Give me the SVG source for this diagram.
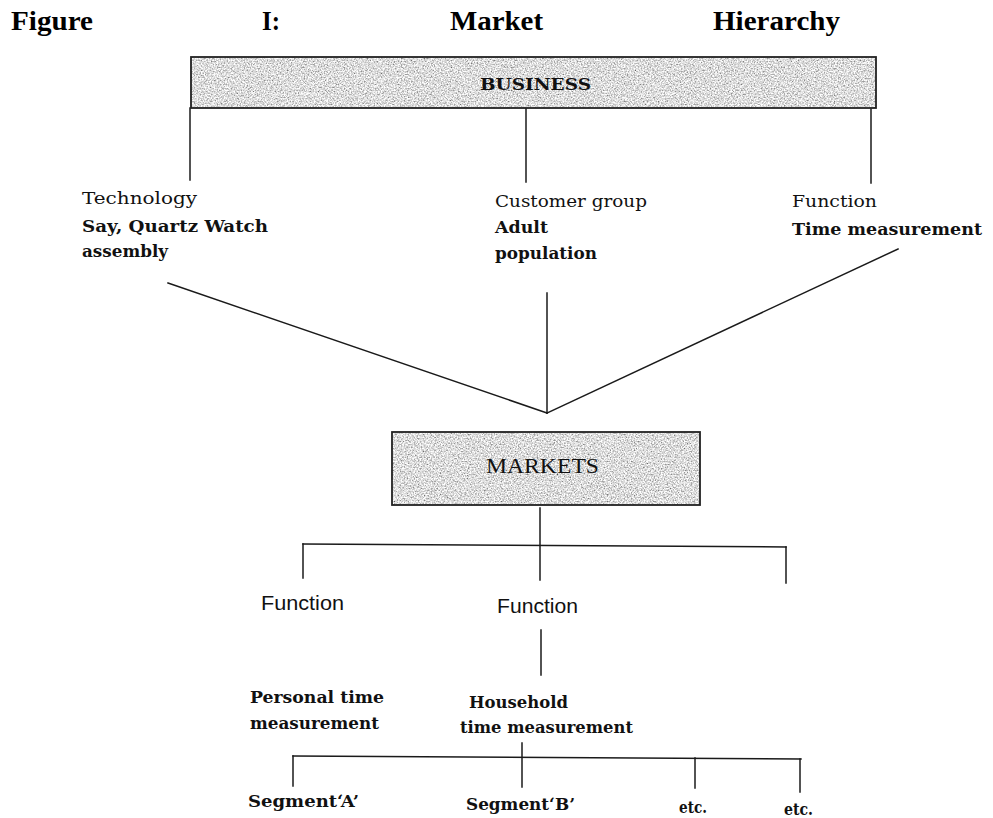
<svg xmlns="http://www.w3.org/2000/svg" width="993" height="818" viewBox="0 0 993 818">
<defs>
<filter id="grain" x="0" y="0" width="1" height="1" filterUnits="objectBoundingBox">
<feTurbulence type="fractalNoise" baseFrequency="0.7" numOctaves="3" seed="7" result="n"/>
<feColorMatrix in="n" type="matrix" values="1.5 0 0 0 -0.03  1.5 0 0 0 -0.03  1.5 0 0 0 -0.03  0 0 0 0 1" result="g"/>
<feComposite in="g" in2="SourceGraphic" operator="in"/>
</filter>
<style>
.ln{stroke:#1a1a1a;stroke-width:1.5;fill:none;stroke-linecap:square}
.fill{fill:#000;filter:url(#grain)}
.box{fill:none;stroke:#222;stroke-width:1.8}
.t{font-family:"DejaVu Serif","Liberation Serif",serif;font-size:17px;fill:#111}
.b{font-weight:bold}
.sans{font-family:"Liberation Sans",Arial,sans-serif;font-size:20px;fill:#111}
.tnr{font-family:"Liberation Serif","Times New Roman",serif;font-size:20px;fill:#111}
.title{font-family:"Liberation Serif","Times New Roman",serif;font-weight:bold;font-size:28px;fill:#000}
</style>
</defs>
<rect width="993" height="818" fill="#fff"/>

<g id="title">
<text class="title" x="11" y="30" textLength="82" lengthAdjust="spacingAndGlyphs">Figure</text>
<text class="title" x="262" y="30" textLength="18" lengthAdjust="spacingAndGlyphs">I:</text>
<text class="title" x="450" y="30" textLength="93" lengthAdjust="spacingAndGlyphs">Market</text>
<text class="title" x="713" y="30" textLength="127" lengthAdjust="spacingAndGlyphs">Hierarchy</text>
</g>

<g id="connectors">
<line class="ln" x1="190" y1="108" x2="190" y2="180"/>
<line class="ln" x1="526" y1="108" x2="526" y2="182"/>
<line class="ln" x1="871" y1="109" x2="871" y2="183"/>
<line class="ln" x1="168" y1="283" x2="547" y2="413"/>
<line class="ln" x1="547" y1="293" x2="547" y2="413"/>
<line class="ln" x1="898" y1="249" x2="547" y2="413"/>
<line class="ln" x1="540" y1="508" x2="540" y2="580"/>
<line class="ln" x1="303" y1="544" x2="786" y2="547"/>
<line class="ln" x1="303" y1="544" x2="303" y2="578"/>
<line class="ln" x1="786" y1="547" x2="786" y2="583"/>
<line class="ln" x1="541" y1="630" x2="541" y2="675"/>
<line class="ln" x1="293" y1="756" x2="801" y2="759"/>
<line class="ln" x1="293" y1="756" x2="293" y2="786"/>
<line class="ln" x1="522" y1="743" x2="522" y2="787"/>
<line class="ln" x1="695" y1="758" x2="695" y2="788"/>
<line class="ln" x1="800" y1="759" x2="800" y2="792"/>
</g>

<g id="business">
<rect class="fill" x="191" y="57" width="685" height="51"/>
<rect class="box" x="191" y="57" width="685" height="51"/>
<text class="t b" x="480" y="90" font-size="16" textLength="111" lengthAdjust="spacingAndGlyphs">BUSINESS</text>
</g>

<g id="technology">
<text class="t" x="82" y="204" textLength="115" lengthAdjust="spacingAndGlyphs">Technology</text>
<text class="t b" x="82" y="232" font-size="16" textLength="186" lengthAdjust="spacingAndGlyphs">Say, Quartz Watch</text>
<text class="t b" x="82" y="257" font-size="16" textLength="86" lengthAdjust="spacingAndGlyphs">assembly</text>
</g>

<g id="customer-group">
<text class="t" x="495" y="207" textLength="152" lengthAdjust="spacingAndGlyphs">Customer group</text>
<text class="t b" x="495" y="233" font-size="16" textLength="53" lengthAdjust="spacingAndGlyphs">Adult</text>
<text class="t b" x="495" y="259" font-size="16" textLength="102" lengthAdjust="spacingAndGlyphs">population</text>
</g>

<g id="function-top">
<text class="t" x="792" y="207" textLength="85" lengthAdjust="spacingAndGlyphs">Function</text>
<text class="t b" x="792" y="235" font-size="16" textLength="190" lengthAdjust="spacingAndGlyphs">Time measurement</text>
</g>

<g id="markets">
<rect class="fill" x="392" y="432" width="308" height="73"/>
<rect class="box" x="392" y="432" width="308" height="73"/>
<text class="tnr" x="486" y="473" textLength="113" lengthAdjust="spacingAndGlyphs">MARKETS</text>
</g>

<g id="function-left">
<text class="sans" x="261" y="610" textLength="83" lengthAdjust="spacingAndGlyphs">Function</text>
</g>

<g id="function-middle">
<text class="sans" x="497" y="613" textLength="81" lengthAdjust="spacingAndGlyphs">Function</text>
</g>

<g id="personal">
<text class="t b" x="250" y="703" font-size="16" textLength="134" lengthAdjust="spacingAndGlyphs">Personal time</text>
<text class="t b" x="250" y="729" font-size="16" textLength="129" lengthAdjust="spacingAndGlyphs">measurement</text>
</g>

<g id="household">
<text class="t b" x="469" y="708" font-size="16" textLength="99" lengthAdjust="spacingAndGlyphs">Household</text>
<text class="t b" x="460" y="733" font-size="16" textLength="173" lengthAdjust="spacingAndGlyphs">time measurement</text>
</g>

<g id="segment-a">
<text class="t b" x="248" y="807" font-size="16" textLength="111" lengthAdjust="spacingAndGlyphs">Segment‘A’</text>
</g>
<g id="segment-b">
<text class="t b" x="466" y="810" font-size="16" textLength="109" lengthAdjust="spacingAndGlyphs">Segment‘B’</text>
</g>
<g id="etc-1">
<text class="t b" x="679" y="813" font-size="15" textLength="28" lengthAdjust="spacingAndGlyphs">etc.</text>
</g>
<g id="etc-2">
<text class="t b" x="784" y="815" font-size="15" textLength="29" lengthAdjust="spacingAndGlyphs">etc.</text>
</g>
</svg>
